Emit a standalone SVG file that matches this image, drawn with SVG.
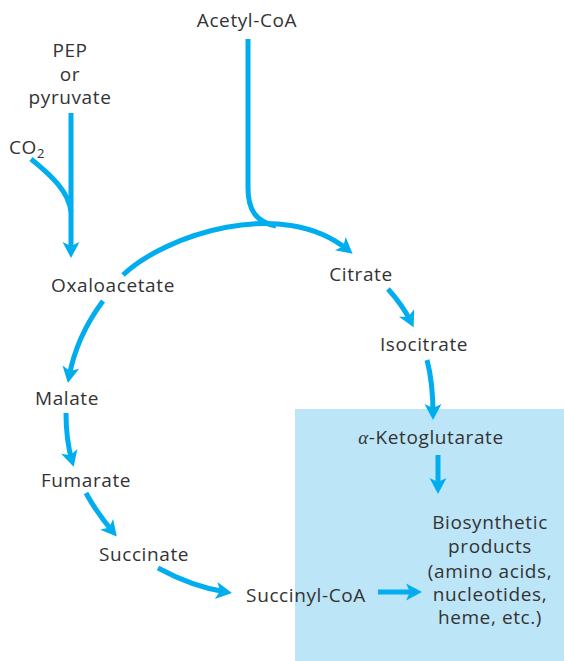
<svg xmlns="http://www.w3.org/2000/svg" width="564" height="661" viewBox="0 0 564 661">
<style>
text{font-family:"Open Sans","Noto Sans","DejaVu Sans",sans-serif;font-size:19px;letter-spacing:0.6px;fill:#333333;text-anchor:middle}
.c{fill:none;stroke:#00aeef;stroke-width:5}
</style>
<defs>
<marker id="ah" markerUnits="userSpaceOnUse" viewBox="-12 -10 20 20" markerWidth="20" markerHeight="20" refX="0" refY="0" orient="auto" overflow="visible">
<path d="M-10,-8.5 L6,0 L-10,8.5 L-6,0 Z" fill="#00aeef"/>
</marker>
</defs>
<rect id="box" x="295" y="409" width="269" height="252" fill="#bde5f8"/>
<g id="connectors">
<path class="c" d="M71,113 V252" marker-end="url(#ah)"/>
<path class="c" d="M31,159 C52,176 69,192 71,212"/>
<path class="c" d="M248,39 V188 C248,210 256,222 276,226"/>
<path class="c" d="M123,275 C165,235 282,196 348,250" marker-end="url(#ah)"/>
<path class="c" d="M388,289 C398,300 405,310 411,322" marker-end="url(#ah)"/>
<path class="c" d="M427,360 C431,375 433,395 433,414" marker-end="url(#ah)"/>
<path class="c" d="M438,455 V488" marker-end="url(#ah)"/>
<path class="c" d="M378,592 H416" marker-end="url(#ah)"/>
<path class="c" d="M103,301 C85,325 74,350 69,377" marker-end="url(#ah)"/>
<path class="c" d="M66,413 C66,430 68,447 72,461" marker-end="url(#ah)"/>
<path class="c" d="M86,493 C94,508 103,520 113,532" marker-end="url(#ah)"/>
<path class="c" d="M158,568 C180,580 200,588 226,592" marker-end="url(#ah)"/>
</g>
<g id="acetylcoa"><text x="247" y="27">Acetyl-CoA</text></g>
<g id="pep"><text x="70" y="57">PEP</text><text x="70" y="81">or</text><text x="70" y="104">pyruvate</text></g>
<g id="co2"><text x="9" y="154" style="text-anchor:start">CO<tspan font-size="13" dy="4">2</tspan></text></g>
<g id="oxaloacetate"><text x="113" y="292">Oxaloacetate</text></g>
<g id="citrate"><text x="361" y="281">Citrate</text></g>
<g id="isocitrate"><text x="424" y="351">Isocitrate</text></g>
<g id="akg"><text x="431" y="444"><tspan font-family="Liberation Serif,serif" font-style="italic">α</tspan>-Ketoglutarate</text></g>
<g id="biosynthetic"><text x="490" y="529">Biosynthetic</text><text x="490" y="553">products</text><text x="490" y="578">(amino acids,</text><text x="490" y="601">nucleotides,</text><text x="490" y="624">heme, etc.)</text></g>
<g id="succinylcoa"><text x="306" y="602">Succinyl-CoA</text></g>
<g id="malate"><text x="67" y="405">Malate</text></g>
<g id="fumarate"><text x="86" y="487">Fumarate</text></g>
<g id="succinate"><text x="144" y="561">Succinate</text></g>
</svg>
